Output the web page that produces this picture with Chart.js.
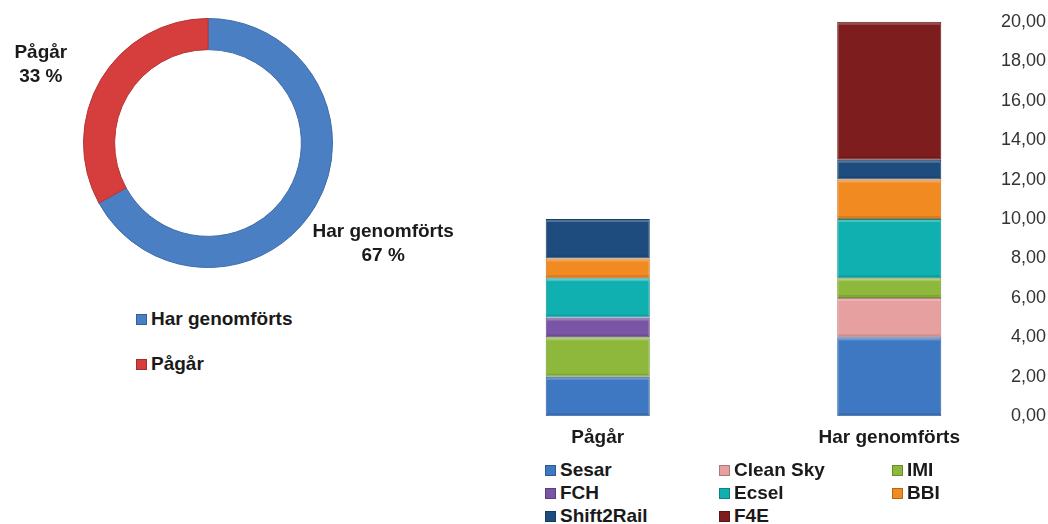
<!DOCTYPE html>
<html>
<head>
<meta charset="utf-8">
<script src="https://cdn.jsdelivr.net/npm/chart.js@4"></script>
<style>
	html, body { margin: 0; padding: 0; background: #fff; }
	body { width: 1048px; height: 524px; position: relative; overflow: hidden; font-family: "Liberation Sans", Arial, sans-serif; color: #1a1a1a; }
	.box { position: absolute; }
	.legend { position: absolute; font-weight: bold; font-size: 19px; }
	.legend .item { position: absolute; white-space: nowrap; display: flex; align-items: center; }
	.legend .swatch { width: 11px; height: 11px; margin-right: 4px; border: 1px solid rgba(0,0,0,0.25); box-sizing: border-box; }
</style>
</head>
<body>
<div class="box" style="left:0;top:0;width:480px;height:300px;"><canvas id="chartStatus"></canvas></div>
<div class="box" style="left:420px;top:0;width:628px;height:459px;"><canvas id="chartProgram"></canvas></div>
<div class="legend" id="legendStatus"></div>
<div class="legend" id="legendProgram"></div>
<script>
// Doughnut data
const statusLabels = ['Har genomförts', 'Pågår'];
const statusValues = [67, 33];
const statusColors = ['#4a7fc4', '#d63e3e'];

// Stacked bar data
const categories = ['Pågår', 'Har genomförts'];
const programNames = ['Sesar', 'Clean Sky', 'IMI', 'FCH', 'Ecsel', 'BBI', 'Shift2Rail', 'F4E'];
const sesar = [2, 4];
const cleanSky = [0, 2];
const imi = [2, 1];
const fch = [1, 0];
const ecsel = [2, 3];
const bbi = [1, 2];
const shift2Rail = [2, 1];
const f4e = [0, 7];
const programColors = ['#3f78c2', '#e6a0a0', '#8db83c', '#7a55a5', '#11b0b0', '#f28a22', '#1f4c7e', '#7d1d1d'];
const yTicks = [0, 2, 4, 6, 8, 10, 12, 14, 16, 18, 20];

(() => {
	'use strict'

	const fontFamily = '"Liberation Sans", Arial, sans-serif';
	const textColor = '#1a1a1a';

	// darken a hex color a bit, used for bar edges
	function shade(hex, f) {
		const n = parseInt(hex.slice(1), 16);
		const r = Math.round(((n >> 16) & 255) * f);
		const g = Math.round(((n >> 8) & 255) * f);
		const b = Math.round((n & 255) * f);
		return 'rgb(' + r + ',' + g + ',' + b + ')';
	}

	/******************** Doughnut Start ********************/
	// draws "Label\nNN %" outside each arc
	const outsideLabels = {
		id: 'outsideLabels',
		afterDatasetsDraw(chart, args, opts) {
			const ctx = chart.ctx;
			const meta = chart.getDatasetMeta(0);
			ctx.save();
			ctx.font = 'bold 19px ' + fontFamily;
			ctx.fillStyle = textColor;
			ctx.textAlign = 'center';
			ctx.textBaseline = 'middle';
			meta.data.forEach((arc, i) => {
				const mid = (arc.startAngle + arc.endAngle) / 2;
				const r = arc.outerRadius * 1.56;
				const nudge = opts.nudge[i] || [0, 0];
				const x = arc.x + Math.cos(mid) * r + nudge[0];
				const y = arc.y + Math.sin(mid) * r + nudge[1];
				ctx.fillText(statusLabels[i], x, y - 12);
				ctx.fillText(statusValues[i] + ' %', x, y + 12);
			});
			ctx.restore();
		}
	};

	const chartStatus = document.querySelector('#chartStatus');
	if (chartStatus) {
		new Chart(chartStatus, {
			type: 'doughnut',
			data: {
				labels: statusLabels,
				datasets: [{
					data: statusValues,
					backgroundColor: statusColors,
					borderColor: statusColors.map(c => shade(c, 0.85)),
					borderWidth: 1
				}]
			},
			options: {
				responsive: true,
				maintainAspectRatio: false,
				animation: false,
				cutout: '75%',
				layout: { padding: { left: 83, right: 147, top: 18, bottom: 32 } },
				plugins: {
					legend: { display: false },
					tooltip: { enabled: false },
					outsideLabels: { nudge: [[8, 2], [0, 21]] }
				}
			},
			plugins: [outsideLabels]
		});
	}
	/********************* Doughnut End *********************/


	/******************** Stacked Bar Start ********************/
	const series = [sesar, cleanSky, imi, fch, ecsel, bbi, shift2Rail, f4e];

	// soft light top edge and dark bottom edge, a rough bevel look
	const bevel = {
		id: 'bevel',
		afterDatasetsDraw(chart) {
			const ctx = chart.ctx;
			ctx.save();
			chart.data.datasets.forEach((ds, di) => {
				chart.getDatasetMeta(di).data.forEach(bar => {
					const { x, y, base, width } = bar.getProps(['x', 'y', 'base', 'width'], true);
					if (base - y < 2) return;
					const l = x - width / 2;
					ctx.fillStyle = 'rgba(255,255,255,0.22)';
					ctx.fillRect(l + 1, y + 1, width - 2, 2);
					ctx.fillStyle = 'rgba(0,0,0,0.10)';
					ctx.fillRect(l + 1, base - 3, width - 2, 2);
				});
			});
			ctx.restore();
		}
	};

	const chartProgram = document.querySelector('#chartProgram');
	if (chartProgram) {
		new Chart(chartProgram, {
			type: 'bar',
			data: {
				labels: categories,
				datasets: series.map((values, i) => ({
					label: programNames[i],
					data: values,
					backgroundColor: programColors[i],
					borderColor: shade(programColors[i], 0.8),
					borderWidth: values.map(v => v > 0 ? 1 : 0),
					borderSkipped: false,
					categoryPercentage: 1,
					barPercentage: 0.357
				}))
			},
			options: {
				responsive: true,
				maintainAspectRatio: false,
				animation: false,
				layout: { padding: { left: 32, right: 13, top: 17, bottom: 0 } },
				plugins: {
					legend: { display: false },
					tooltip: { enabled: false }
				},
				scales: {
					x: {
						stacked: true,
						grid: { display: false, drawTicks: false },
						border: { display: false },
						ticks: {
							padding: 10,
							color: textColor,
							font: { family: fontFamily, size: 19, weight: 'bold' }
						}
					},
					y: {
						stacked: true,
						position: 'right',
						min: 0,
						max: 20,
						afterBuildTicks: scale => { scale.ticks = yTicks.map(v => ({ value: v })); },
						afterFit: scale => { scale.width = 0; },
						grid: { display: false, drawTicks: false },
						border: { display: false },
						ticks: {
							mirror: true,
							padding: 11,
							color: '#333',
							font: { family: fontFamily, size: 18 },
							callback: v => v.toFixed(2).replace('.', ',')
						}
					}
				}
			},
			plugins: [bevel]
		});
	}
	/********************* Stacked Bar End *********************/


	/******************** HTML Legends Start ********************/
	function addItem(parent, name, color, x, y) {
		const item = document.createElement('div');
		item.className = 'item';
		item.style.left = x + 'px';
		item.style.top = y + 'px';
		const sw = document.createElement('span');
		sw.className = 'swatch';
		sw.style.background = color;
		item.appendChild(sw);
		item.appendChild(document.createTextNode(name));
		parent.appendChild(item);
	}

	const legendStatus = document.querySelector('#legendStatus');
	statusLabels.forEach((name, i) => addItem(legendStatus, name, statusColors[i], 136, 308 + i * 45));

	const legendProgram = document.querySelector('#legendProgram');
	const colX = [545, 719, 892];
	programNames.forEach((name, i) => {
		addItem(legendProgram, name, programColors[i], colX[i % 3], 459 + Math.floor(i / 3) * 23);
	});
	/********************* HTML Legends End *********************/
})()
</script>
</body>
</html>
